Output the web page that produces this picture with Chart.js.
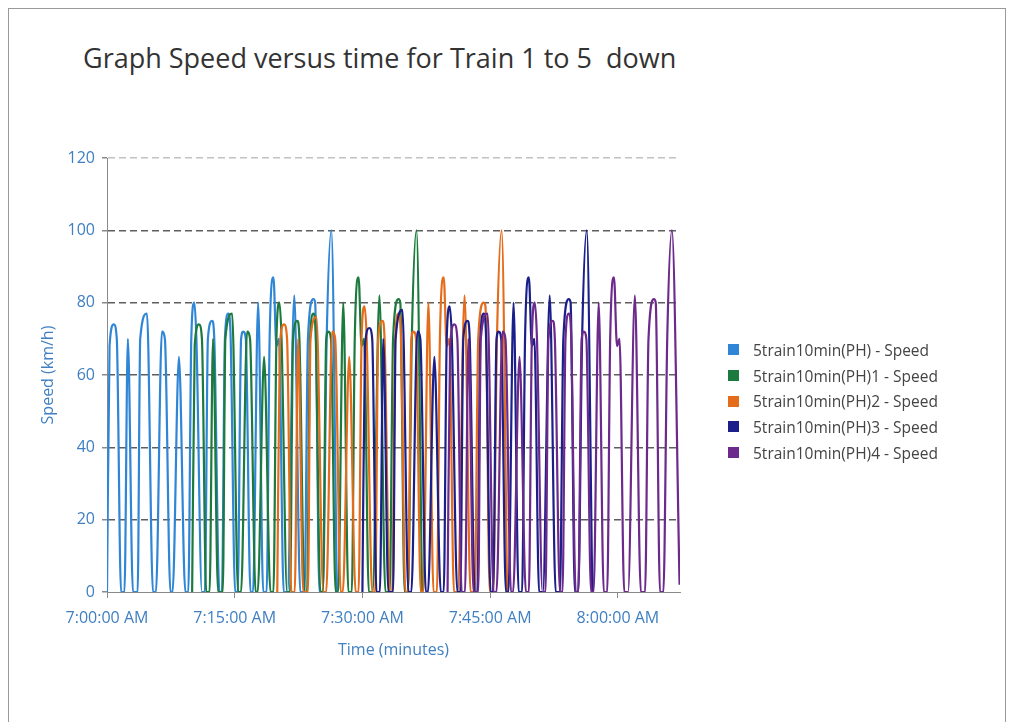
<!DOCTYPE html>
<html>
<head>
<meta charset="utf-8">
<script src="https://cdn.jsdelivr.net/npm/chart.js@4.4.1/dist/chart.umd.min.js"></script>
<style>
  html, body { margin: 0; padding: 0; background: #fff; }
  #wrap { position: relative; width: 1014px; height: 722px; overflow: hidden; font-family: "Open Sans", "Noto Sans", sans-serif; }
  #frame { position: absolute; left: 8px; top: 8px; width: 996px; height: 760px; border: 1px solid #9a9a9a; }
  #title { position: absolute; left: 83px; top: 39px; font-size: 27px; color: #333; white-space: pre; }
  #legend { position: absolute; left: 728px; top: 337px; font-size: 15.5px; color: #444; }
  .item { height: 25.7px; display: flex; align-items: center; }
  .box { width: 11px; height: 11px; margin-right: 14px; }
  canvas { position: absolute; left: 0; top: 0; }
</style>
</head>
<body>
<div id="wrap">
  <div id="frame"></div>
  <div id="title">Graph Speed versus time for Train 1 to 5  down</div>
  <canvas id="speedChart" width="1014" height="722"></canvas>
  <div id="legend"></div>
</div>
<script>
// minutes after 7:00 AM, speed in km/h
const train1 = [
  [0.00,0],[0.30,68],[0.80,74],[1.15,70],[1.65,0],
  [2.05,0],[2.45,70],[3.05,0],
  [3.60,0],[3.90,70],[4.70,77],[5.40,0],
  [5.75,0],[6.45,72],[6.80,70],[7.45,0],
  [7.70,0],[8.45,65],[9.20,0],
  [9.55,0],[9.90,70],[10.25,80],[10.50,70],[11.15,0],
  [11.50,0],[11.85,70],[12.35,75],[12.60,70],[13.20,0],
  [13.50,0],[13.85,70],[14.25,77],[14.50,72],[15.05,0],
  [15.35,0],[15.75,70],[16.00,72],[16.30,70],[16.85,0],
  [17.15,0],[17.75,80],[18.35,0],
  [18.75,0],[19.10,70],[19.55,87],[19.90,68],[20.20,70],[20.75,0],
  [21.20,0],[22.00,82],[22.70,0],
  [23.20,0],[23.60,70],[24.25,81],[24.45,80],[24.95,0],
  [25.35,0],[25.80,70],[26.35,100],[27.00,0]
];
const train2 = [
  [10.00,0],[10.30,68],[10.80,74],[11.15,70],[11.65,0],
  [12.05,0],[12.45,70],[13.05,0],
  [13.60,0],[13.90,70],[14.70,77],[15.40,0],
  [15.75,0],[16.45,72],[16.80,70],[17.45,0],
  [17.70,0],[18.45,65],[19.20,0],
  [19.55,0],[19.90,70],[20.25,80],[20.50,70],[21.15,0],
  [21.50,0],[21.85,70],[22.35,75],[22.60,70],[23.20,0],
  [23.50,0],[23.85,70],[24.25,77],[24.50,72],[25.05,0],
  [25.35,0],[25.75,70],[26.00,72],[26.30,70],[26.85,0],
  [27.15,0],[27.75,80],[28.35,0],
  [28.75,0],[29.10,70],[29.55,87],[29.90,68],[30.20,70],[30.75,0],
  [31.20,0],[32.00,82],[32.70,0],
  [33.20,0],[33.60,70],[34.25,81],[34.45,80],[34.95,0],
  [35.35,0],[35.80,70],[36.35,100],[37.00,0]
];
const train3 = [
  [20.00,0],[20.30,68],[20.80,74],[21.15,70],[21.65,0],
  [22.05,0],[22.45,70],[23.05,0],
  [23.60,0],[23.90,70],[24.60,76],[25.40,0],
  [25.75,0],[26.45,72],[26.80,70],[27.45,0],
  [27.70,0],[28.45,65],[29.20,0],
  [29.55,0],[29.90,70],[30.25,79],[30.50,70],[31.15,0],
  [31.50,0],[31.85,70],[32.35,75],[32.60,70],[33.20,0],
  [33.50,0],[33.85,70],[34.25,77],[34.50,72],[35.05,0],
  [35.35,0],[35.75,70],[36.00,72],[36.30,70],[36.85,0],
  [37.15,0],[37.75,80],[38.35,0],
  [38.75,0],[39.10,70],[39.55,87],[39.90,68],[40.20,70],[40.75,0],
  [41.20,0],[42.00,82],[42.70,0],
  [43.20,0],[43.60,70],[44.25,80],[44.45,79],[44.95,0],
  [45.35,0],[45.80,70],[46.35,100],[47.00,0]
];
const train4 = [
  [30.00,0],[30.30,68],[30.80,73],[31.15,70],[31.65,0],
  [32.05,0],[32.45,70],[33.05,0],
  [33.60,0],[33.90,70],[34.70,78],[35.40,0],
  [35.75,0],[36.45,72],[36.80,70],[37.45,0],
  [37.70,0],[38.45,65],[39.20,0],
  [39.55,0],[39.90,70],[40.25,79],[40.50,70],[41.15,0],
  [41.50,0],[41.85,70],[42.35,75],[42.60,70],[43.20,0],
  [43.50,0],[43.85,70],[44.25,77],[44.50,72],[45.05,0],
  [45.35,0],[45.75,70],[46.00,72],[46.30,70],[46.85,0],
  [47.15,0],[47.75,80],[48.35,0],
  [48.75,0],[49.10,70],[49.55,87],[49.90,68],[50.20,70],[50.75,0],
  [51.20,0],[52.00,82],[52.70,0],
  [53.20,0],[53.60,70],[54.25,81],[54.45,80],[54.95,0],
  [55.35,0],[55.80,70],[56.35,100],[57.00,0]
];
const train5 = [
  [40.00,0],[40.30,68],[40.80,74],[41.15,70],[41.65,0],
  [42.05,0],[42.45,70],[43.05,0],
  [43.60,0],[43.90,70],[44.70,77],[45.40,0],
  [45.75,0],[46.45,72],[46.80,70],[47.45,0],
  [47.70,0],[48.45,65],[49.20,0],
  [49.55,0],[49.90,70],[50.25,80],[50.50,70],[51.15,0],
  [51.50,0],[51.85,70],[52.35,75],[52.60,70],[53.20,0],
  [53.50,0],[53.85,70],[54.25,77],[54.50,72],[55.05,0],
  [55.35,0],[55.75,70],[56.00,72],[56.30,70],[56.85,0],
  [57.15,0],[57.75,80],[58.35,0],
  [58.75,0],[59.10,70],[59.55,87],[59.90,68],[60.20,70],[60.75,0],
  [61.20,0],[62.00,82],[62.70,0],
  [63.20,0],[63.60,70],[64.25,81],[64.45,80],[64.95,0],
  [65.35,0],[65.80,70],[66.35,100],[67.25,2]
];

const trainSeries = [train1, train2, train3, train4, train5];
const trainNames = [
  '5train10min(PH) - Speed',
  '5train10min(PH)1 - Speed',
  '5train10min(PH)2 - Speed',
  '5train10min(PH)3 - Speed',
  '5train10min(PH)4 - Speed'
];
const trainColors = ['#2f86d6', '#1d7a3e', '#e46c1a', '#1b1f8a', '#6b2a8c'];

const xTickValues = [0, 15, 30, 45, 60];
const xTickLabels = ['7:00:00 AM', '7:15:00 AM', '7:30:00 AM', '7:45:00 AM', '8:00:00 AM'];

const axisText = '#3f7fc2';
const fontFamily = '"Open Sans", "Noto Sans", sans-serif';

const datasets = trainSeries.map((series, i) => ({
  label: trainNames[i],
  data: series.map(p => ({ x: p[0], y: p[1] })),
  borderColor: trainColors[i],
  backgroundColor: trainColors[i],
  borderWidth: 2.2,
  pointRadius: 0,
  cubicInterpolationMode: 'monotone',
  fill: false,
  order: trainSeries.length - i
}));

const ctx = document.getElementById('speedChart').getContext('2d');
const speedChart = new Chart(ctx, {
  type: 'line',
  data: { datasets: datasets },
  options: {
    responsive: false,
    animation: false,
    layout: { padding: { left: 35, right: 334, top: 158, bottom: 58 } },
    plugins: {
      legend: { display: false },
      title: { display: false },
      tooltip: { enabled: false }
    },
    scales: {
      x: {
        type: 'linear',
        min: 0,
        max: 67.3,
        afterBuildTicks: scale => { scale.ticks = xTickValues.map(v => ({ value: v })); },
        afterFit: scale => { scale.height = 72; },
        ticks: {
          autoSkip: false,
          maxRotation: 0,
          padding: 11,
          color: axisText,
          font: { family: fontFamily, size: 16 },
          callback: (value, index) => xTickLabels[index]
        },
        grid: { drawOnChartArea: false, drawTicks: true, tickLength: 6, color: '#8a8a8a' },
        border: { color: '#8a8a8a', width: 1 },
        title: {
          display: true,
          text: 'Time (minutes)',
          color: axisText,
          font: { family: fontFamily, size: 16 }
        }
      },
      y: {
        min: 0,
        max: 120,
        afterFit: scale => { scale.width = 72; },
        ticks: {
          stepSize: 20,
          padding: 7,
          color: axisText,
          font: { family: fontFamily, size: 16 }
        },
        grid: {
          lineWidth: 1.5,
          color: c => c.tick && c.tick.value === 120 ? '#c2c2c2' : (c.tick && c.tick.value === 0 ? 'rgba(0,0,0,0)' : '#5e5e5e'),
          tickColor: '#8a8a8a',
          tickLength: 5,
          tickBorderDash: []
        },
        border: { color: '#8a8a8a', width: 1, dash: [7, 4] },
        title: {
          display: true,
          text: 'Speed (km/h)',
          color: axisText,
          font: { family: fontFamily, size: 16 }
        }
      }
    }
  }
});

// legend built from the datasets
const legendEl = document.getElementById('legend');
speedChart.data.datasets.forEach(ds => {
  const row = document.createElement('div');
  row.className = 'item';
  const box = document.createElement('span');
  box.className = 'box';
  box.style.background = ds.borderColor;
  const txt = document.createElement('span');
  txt.textContent = ds.label;
  row.appendChild(box);
  row.appendChild(txt);
  legendEl.appendChild(row);
});
</script>
</body>
</html>
